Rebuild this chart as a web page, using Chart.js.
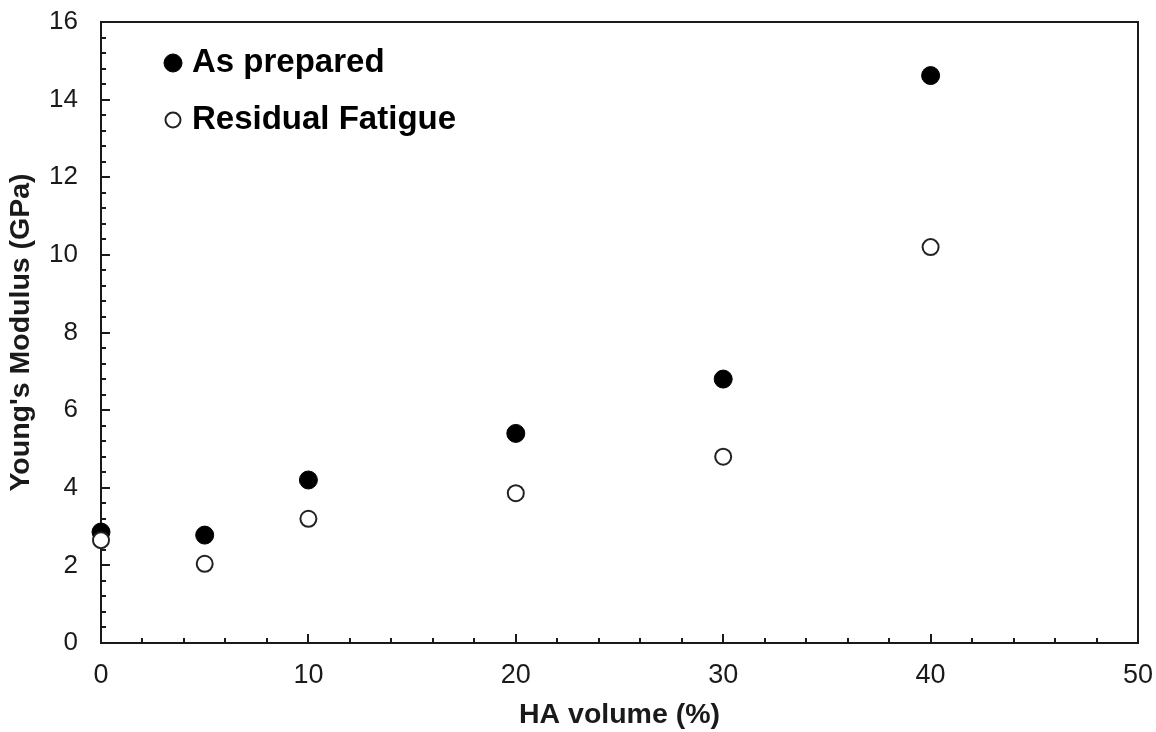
<!DOCTYPE html>
<html>
<head>
<meta charset="utf-8">
<script src="https://cdn.jsdelivr.net/npm/chart.js@4/dist/chart.umd.min.js"></script>
<style>
  html, body { margin: 0; padding: 0; background: #fff; }
  #wrap { width: 1156px; height: 732px; }
</style>
</head>
<body>
<div id="wrap"><canvas id="c" width="1156" height="732"></canvas></div>
<script>
// ---- data ----
const haVolume = [0, 5, 10, 20, 30, 40];
const asPrepared = [2.86, 2.78, 4.2, 5.4, 6.8, 14.62];
const residualFatigue = [2.65, 2.04, 3.2, 3.86, 4.8, 10.2];
const seriesNames = ['As prepared', 'Residual Fatigue'];
const xTitle = 'HA volume (%)';
const yTitle = "Young's Modulus (GPa)";
const xRange = [0, 50], xMajor = 10, xMinor = 2;
const yRange = [0, 16], yMajor = 2, yMinor = 0.4;

const FONT = "'Liberation Sans', Arial, sans-serif";
const INK = '#1a1a1a';

function pts(xs, ys) { return xs.map((x, i) => ({ x: x, y: ys[i] })); }

function noPad(s) {
  s.paddingTop = 0; s.paddingBottom = 0; s.paddingLeft = 0; s.paddingRight = 0;
}

const frameAndTicks = {
  id: 'frameAndTicks',
  beforeDatasetsDraw(chart) {
    const ctx = chart.ctx, a = chart.chartArea;
    const xs = chart.scales.x, ys = chart.scales.y;
    ctx.save();
    ctx.strokeStyle = INK;
    ctx.lineWidth = 2;
    ctx.beginPath();
    ctx.rect(a.left, a.top, a.right - a.left, a.bottom - a.top);
    ctx.stroke();
    ctx.beginPath();
    const nx = Math.round((xRange[1] - xRange[0]) / xMinor);
    for (let i = 1; i < nx; i++) {
      const v = xRange[0] + i * xMinor;
      const px = Math.round(xs.getPixelForValue(v));
      const major = Math.abs(v / xMajor - Math.round(v / xMajor)) < 1e-6;
      ctx.moveTo(px, a.bottom);
      ctx.lineTo(px, a.bottom - (major ? 9 : 5));
    }
    const ny = Math.round((yRange[1] - yRange[0]) / yMinor);
    for (let i = 1; i < ny; i++) {
      const v = yRange[0] + i * yMinor;
      const py = Math.round(ys.getPixelForValue(v));
      const major = Math.abs(v / yMajor - Math.round(v / yMajor)) < 1e-6;
      ctx.moveTo(a.left, py);
      ctx.lineTo(a.left + (major ? 9 : 5), py);
    }
    ctx.stroke();
    ctx.restore();
  },
  afterDraw(chart) {
    // legend inside plot area, top-left
    const ctx = chart.ctx, a = chart.chartArea;
    ctx.save();
    ctx.font = "bold 33px " + FONT;
    ctx.textBaseline = 'middle';
    chart.data.datasets.forEach((ds, i) => {
      const cx = a.left + 72, cy = a.top + 41 + i * 57;
      ctx.beginPath();
      ctx.arc(cx, cy, i === 0 ? 9 : 7.5, 0, Math.PI * 2);
      ctx.fillStyle = ds.backgroundColor;
      ctx.fill();
      ctx.lineWidth = ds.borderWidth;
      ctx.strokeStyle = ds.borderColor;
      ctx.stroke();
      ctx.fillStyle = '#000';
      ctx.fillText(ds.label, cx + 19, cy);
    });
    ctx.restore();
  }
};

new Chart(document.getElementById('c'), {
  type: 'scatter',
  data: {
    datasets: [
      {
        label: seriesNames[0],
        data: pts(haVolume, asPrepared),
        pointRadius: 9,
        pointHoverRadius: 9,
        backgroundColor: '#000',
        borderColor: '#000',
        borderWidth: 1,
        clip: false,
        order: 2
      },
      {
        label: seriesNames[1],
        data: pts(haVolume, residualFatigue),
        pointRadius: 8,
        pointHoverRadius: 8,
        backgroundColor: '#fff',
        borderColor: '#222',
        borderWidth: 2,
        clip: false,
        order: 1
      }
    ]
  },
  options: {
    responsive: false,
    animation: false,
    events: [],
    layout: { padding: { top: 22, right: 18, left: 0, bottom: 0 } },
    plugins: {
      legend: { display: false },
      tooltip: { enabled: false }
    },
    scales: {
      x: {
        type: 'linear',
        min: xRange[0], max: xRange[1],
        grid: { display: false },
        border: { display: false },
        ticks: {
          stepSize: xMajor,
          color: INK,
          padding: 8,
          font: { family: FONT, size: 27 },
          maxRotation: 0
        },
        title: {
          display: true,
          text: xTitle,
          color: INK,
          font: { family: FONT, size: 28.5, weight: 'bold' },
          padding: { top: 0, bottom: 0 }
        },
        afterFit(s) { s.height = 89; noPad(s); }
      },
      y: {
        type: 'linear',
        min: yRange[0], max: yRange[1],
        grid: { display: false },
        border: { display: false },
        ticks: {
          stepSize: yMajor,
          color: INK,
          padding: 15,
          font: { family: FONT, size: 26 }
        },
        title: {
          display: true,
          text: yTitle,
          color: INK,
          font: { family: FONT, size: 28.5, weight: 'bold' },
          padding: { top: 4, bottom: 0 }
        },
        afterFit(s) { s.width = 101; noPad(s); }
      }
    }
  },
  plugins: [frameAndTicks]
});
</script>
</body>
</html>
